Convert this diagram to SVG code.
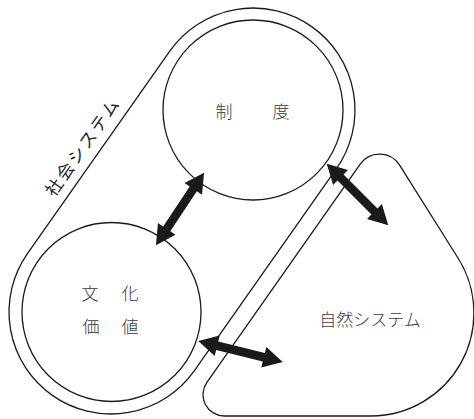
<svg xmlns="http://www.w3.org/2000/svg" width="474" height="419" viewBox="0 0 474 419">
<defs>
<style>
.ln{fill:none;stroke:#1a1a1a;stroke-width:1.3}
.t{font-family:"Noto Sans CJK JP","Noto Sans CJK SC",sans-serif;font-size:17px;fill:#3a3a3a;dominant-baseline:central;text-anchor:middle;font-weight:300}
.ar{fill:#1a1a1a}
</style>
<polygon id="dbl" points="-43.5,0 -24,-10.5 -24,-4.3 24,-4.3 24,-10.5 43.5,0 24,10.5 24,4.3 -24,4.3 -24,10.5"/>
</defs>
<rect width="474" height="419" fill="#fff"/>
<g id="social-system">
<path class="ln" d="M169.6 51.3 A102 102 0 0 1 311.7 26.6 A102 102 0 0 1 336.4 168.7 L194.4 370.7 A102 102 0 0 1 52.3 395.4 A102 102 0 0 1 27.6 253.3 Z"/>
<text class="t" transform="translate(81.7 145.8) rotate(-54.9)" letter-spacing="2.5" font-size="18" style="font-weight:400;fill:#222">社会システム</text>
</g>
<g id="nature-system">
<path class="ln" d="M206.9 382.3 L360.2 164.1 A23.7 23.7 0 0 1 399.6 165.1 L458 258 A103 103 0 0 1 371 416 L224.4 416 A21.4 21.4 0 0 1 206.9 382.3 Z"/>
<text class="t" x="370" y="318" font-size="18">自然システム</text>
</g>
<g id="institution">
<circle class="ln" cx="253" cy="110" r="90"/>
<text class="t" x="224" y="110">制</text>
<text class="t" x="281" y="110">度</text>
</g>
<g id="culture-values">
<circle class="ln" cx="111.5" cy="312" r="89.5"/>
<text class="t" x="90" y="292.5">文</text>
<text class="t" x="130" y="292.5">化</text>
<text class="t" x="91" y="325.5">価</text>
<text class="t" x="130" y="325.5">値</text>
</g>
<g id="connectors" class="ar">
<use href="#dbl" transform="translate(180 208.9) rotate(123.6)"/>
<use href="#dbl" transform="translate(357.5 194.5) rotate(45)"/>
<use href="#dbl" transform="translate(240.5 351.5) rotate(13.9)"/>
</g>
</svg>
